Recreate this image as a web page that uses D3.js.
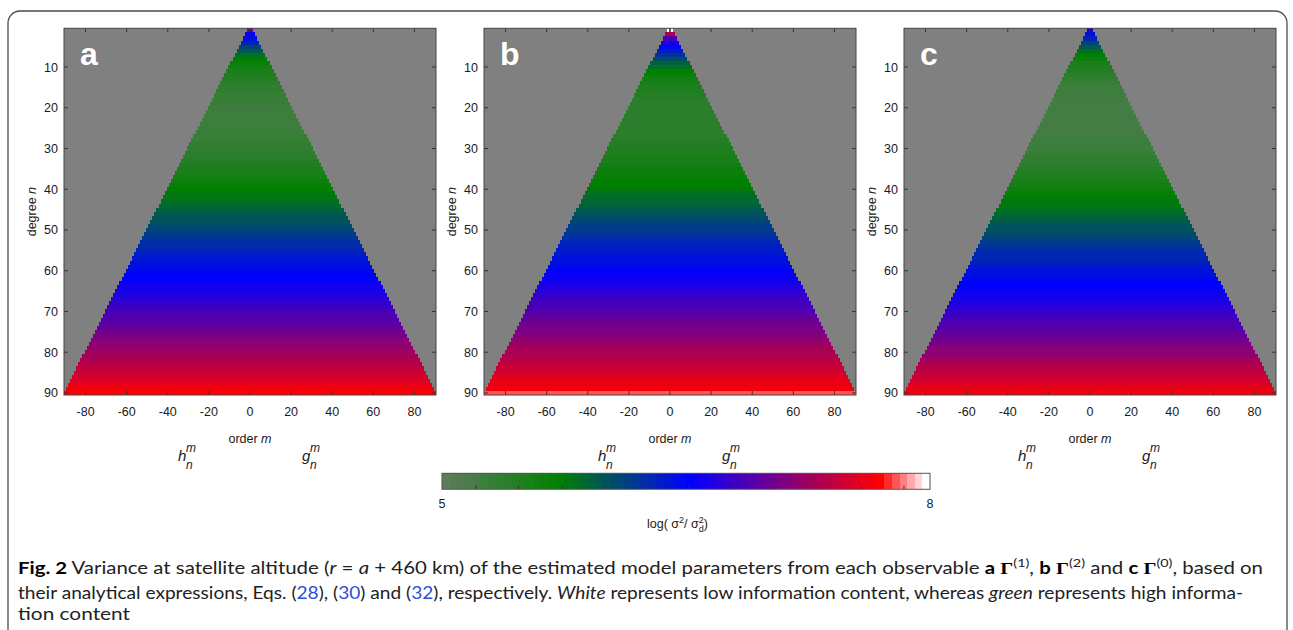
<!DOCTYPE html>
<html><head><meta charset="utf-8">
<script src="https://cdn.jsdelivr.net/npm/d3@7"></script>
<style>body{margin:0;background:#fff}svg{display:block}</style>
</head><body>
<svg id="c" width="1293" height="630"></svg>
<script>
// ---------- data ----------
const panelLetters = ["a", "b", "c"];
const degrees = d3.range(1, 91); // degree n = 1..90
// log(sigma^2 / sigma_d^2) per degree n (constant over order m)
const varA = [7.05,6.55,6.42,6.28,6.12,5.98,5.84,5.74,5.66,5.60,
  5.54,5.49,5.44,5.40,5.37,5.34,5.32,5.30,5.29,5.28,
  5.27,5.27,5.27,5.27,5.28,5.29,5.30,5.32,5.34,5.36,
  5.39,5.42,5.45,5.48,5.52,5.56,5.60,5.64,5.68,5.72,
  5.75,5.79,5.83,5.87,5.91,5.95,5.99,6.03,6.07,6.11,
  6.15,6.19,6.23,6.26,6.30,6.34,6.37,6.41,6.44,6.47,
  6.50,6.53,6.57,6.60,6.64,6.68,6.72,6.76,6.80,6.84,
  6.88,6.92,6.96,7.00,7.04,7.08,7.12,7.16,7.20,7.25,
  7.29,7.33,7.38,7.42,7.46,7.50,7.55,7.59,7.64,7.68];
const varB = [8.00,7.30,6.85,6.60,6.48,6.35,6.20,6.05,5.92,5.80,
  5.72,5.66,5.60,5.55,5.51,5.47,5.44,5.42,5.40,5.39,
  5.38,5.38,5.38,5.38,5.39,5.40,5.42,5.44,5.46,5.48,
  5.50,5.53,5.56,5.59,5.62,5.65,5.68,5.71,5.74,5.77,
  5.81,5.85,5.89,5.93,5.97,6.01,6.05,6.09,6.13,6.17,
  6.21,6.24,6.28,6.32,6.35,6.39,6.42,6.45,6.48,6.51,
  6.55,6.59,6.63,6.67,6.71,6.75,6.79,6.83,6.87,6.91,
  6.95,6.99,7.03,7.07,7.10,7.14,7.18,7.22,7.26,7.30,
  7.34,7.38,7.42,7.46,7.50,7.54,7.58,7.62,7.67,7.80];
const varC = [6.55,6.45,6.30,6.12,5.95,5.82,5.72,5.64,5.56,5.50,
  5.44,5.39,5.35,5.31,5.28,5.26,5.24,5.23,5.22,5.21,
  5.21,5.20,5.20,5.20,5.21,5.21,5.22,5.24,5.26,5.28,
  5.30,5.33,5.36,5.39,5.43,5.47,5.51,5.55,5.59,5.63,
  5.67,5.71,5.75,5.79,5.83,5.87,5.91,5.95,5.99,6.03,
  6.07,6.11,6.15,6.19,6.23,6.27,6.30,6.34,6.38,6.41,
  6.44,6.47,6.50,6.53,6.56,6.60,6.64,6.68,6.72,6.76,
  6.80,6.84,6.88,6.92,6.96,7.00,7.04,7.08,7.12,7.16,
  7.20,7.25,7.30,7.35,7.40,7.45,7.50,7.55,7.60,7.66];
// cells with no value (drawn as background): [n, m]
const missingA = [];
const missingB = [[1, 0]];
const missingC = [];
const xTicks = [-80, -60, -40, -20, 0, 20, 40, 60, 80];
const yTicks = [10, 20, 30, 40, 50, 60, 70, 80, 90];
const cbDomain = [5, 8];
const cbTickLabels = [5, 8];
const cbMinorTicks = [5.21, 5.47, 5.74, 6.00, 6.26, 6.52, 6.79, 7.05, 7.31, 7.58, 7.84];

// ---------- styling ----------
const svg = d3.select("#c");
const FONT = "'Liberation Sans', Arial, Helvetica, sans-serif";
const TXT = "#1a1a1a";

svg.append("rect").attr("x", 8).attr("y", 11).attr("width", 1279).attr("height", 700)
  .attr("rx", 12).attr("fill", "none").attr("stroke", "#4a4a4a").attr("stroke-width", 1.3);

const NBINS = 64;
const idxColor = d3.scaleLinear()
  .domain([0, 15, 32, 57, 63])
  .range(["rgb(92,124,92)", "rgb(0,128,0)", "rgb(0,0,255)", "rgb(255,0,0)", "rgb(255,255,255)"])
  .interpolate(d3.interpolateRgb);
const binScale = d3.scaleQuantize().domain(cbDomain).range(d3.range(NBINS));
const colorOf = v => idxColor(binScale(v));

const panelLeft = [64, 484, 904];
const PW = 372, TOP = 28.3, BOT = 395;
const datasets = [varA, varB, varC];
const missings = [missingA, missingB, missingC];

panelLeft.forEach((px, i) => {
  const x = d3.scaleLinear().domain([-90.5, 90.5]).range([px, px + PW]);
  const y = d3.scaleLinear().domain([0.5, 90.5]).range([TOP, BOT]);
  const g = svg.append("g");
  g.append("rect").attr("x", px).attr("y", TOP).attr("width", PW).attr("height", BOT - TOP)
    .attr("fill", "#808080");

  // build runs of cells per degree
  const runs = [];
  degrees.forEach((n, k) => {
    const v = datasets[i][k];
    let start = null;
    for (let m = -n; m <= n + 1; m++) {
      const miss = m > n || missings[i].some(d => d[0] === n && d[1] === m);
      if (!miss && start === null) start = m;
      if (miss && start !== null) { runs.push({ n, m0: start, m1: m - 1, v }); start = null; }
    }
  });
  g.selectAll("rect.cell").data(runs).join("rect").attr("class", "cell")
    .attr("x", d => x(d.m0 - 0.5)).attr("width", d => x(d.m1 + 0.5) - x(d.m0 - 0.5))
    .attr("y", d => y(d.n - 0.5)).attr("height", d => y(d.n + 0.5) - y(d.n - 0.5))
    .attr("fill", d => colorOf(d.v)).attr("shape-rendering", "crispEdges");

  const tk = 4, tc = "#333";
  xTicks.forEach(t => {
    g.append("line").attr("x1", x(t)).attr("x2", x(t)).attr("y1", BOT).attr("y2", BOT - tk).attr("stroke", tc);
    g.append("line").attr("x1", x(t)).attr("x2", x(t)).attr("y1", TOP).attr("y2", TOP + tk).attr("stroke", tc);
    g.append("text").attr("x", x(t)).attr("y", 416).attr("text-anchor", "middle")
      .attr("font-family", FONT).attr("font-size", 12.5).attr("fill", TXT).text(t);
  });
  yTicks.forEach(t => {
    g.append("line").attr("x1", px).attr("x2", px + tk).attr("y1", y(t)).attr("y2", y(t)).attr("stroke", tc);
    g.append("line").attr("x1", px + PW).attr("x2", px + PW - tk).attr("y1", y(t)).attr("y2", y(t)).attr("stroke", tc);
    g.append("text").attr("x", px - 6).attr("y", y(t) + 4.5).attr("text-anchor", "end")
      .attr("font-family", FONT).attr("font-size", 12.5).attr("fill", TXT).text(t);
  });
  g.append("rect").attr("x", px).attr("y", TOP).attr("width", PW).attr("height", BOT - TOP)
    .attr("fill", "none").attr("stroke", "#444").attr("stroke-width", 1);

  // panel letter
  g.append("text").attr("x", px + 16).attr("y", 65).attr("font-family", FONT)
    .attr("font-weight", "bold").attr("font-size", 32).attr("fill", "#fff").text(panelLetters[i]);

  // y label
  const yl = g.append("text").attr("transform", `translate(${px - 28},${(TOP + BOT) / 2}) rotate(-90)`)
    .attr("text-anchor", "middle").attr("font-family", FONT).attr("font-size", 12.5).attr("fill", TXT);
  yl.append("tspan").text("degree ");
  yl.append("tspan").attr("font-style", "italic").text("n");

  const cx = px + PW / 2;
  const xl = g.append("text").attr("x", cx).attr("y", 443).attr("text-anchor", "middle")
    .attr("font-family", FONT).attr("font-size", 12.5).attr("fill", TXT);
  xl.append("tspan").text("order ");
  xl.append("tspan").attr("font-style", "italic").text("m");

  [["h", -72], ["g", 52]].forEach(([ch, dx]) => {
    const it = { "font-family": FONT, "font-style": "italic", fill: TXT };
    const a = g.append("text").attr("x", cx + dx).attr("y", 460.5).attr("font-size", 15).text(ch);
    const b = g.append("text").attr("x", cx + dx + 8).attr("y", 452).attr("font-size", 12).text("m");
    const c = g.append("text").attr("x", cx + dx + 8).attr("y", 468.5).attr("font-size", 12).text("n");
    [a, b, c].forEach(s => Object.entries(it).forEach(([k, v]) => s.attr(k, v)));
  });
});

// ---------- colorbar ----------
const CB0 = 442, CB1 = 930, CBT = 473.3, CBB = 489.3;
const cbx = d3.scaleLinear().domain(cbDomain).range([CB0, CB1]);
const step = (cbDomain[1] - cbDomain[0]) / NBINS;
svg.append("g").selectAll("rect").data(d3.range(NBINS)).join("rect")
  .attr("x", i => cbx(cbDomain[0] + i * step)).attr("y", CBT)
  .attr("width", i => cbx(cbDomain[0] + (i + 1) * step) - cbx(cbDomain[0] + i * step) + 0.4)
  .attr("height", CBB - CBT).attr("fill", i => idxColor(i)).attr("shape-rendering", "crispEdges");
cbMinorTicks.forEach(t => {
  svg.append("line").attr("x1", cbx(t)).attr("x2", cbx(t)).attr("y1", CBB).attr("y2", CBB - 3.5).attr("stroke", "#333");
});
svg.append("rect").attr("x", CB0).attr("y", CBT).attr("width", CB1 - CB0).attr("height", CBB - CBT)
  .attr("fill", "none").attr("stroke", "#555").attr("stroke-width", 1);
cbTickLabels.forEach(t => {
  svg.append("text").attr("x", cbx(t)).attr("y", 508).attr("text-anchor", "middle")
    .attr("font-family", FONT).attr("font-size", 12.5).attr("fill", TXT).text(t);
});
const cbl = svg.append("text").attr("x", 647).attr("y", 528).attr("font-family", FONT)
  .attr("font-size", 12.5).attr("fill", TXT);
cbl.append("tspan").text("log( σ");
cbl.append("tspan").attr("dy", -5).attr("font-size", 9).text("2");
cbl.append("tspan").attr("dy", 5).text("/ σ");
cbl.append("tspan").attr("dy", -5).attr("font-size", 9).text("2");
cbl.append("tspan").attr("dx", -5).attr("dy", 8.5).attr("font-size", 9).text("d");
cbl.append("tspan").attr("dy", -3.5).text(")");

// ---------- caption ----------
const CFONT = "Lato, 'Open Sans', sans-serif";
function captionLine(yb, len, parts) {
  const t = svg.append("text").attr("x", 18).attr("y", yb).attr("font-family", CFONT)
    .attr("font-size", 17).attr("fill", "#222");
  if (len) t.attr("textLength", len).attr("lengthAdjust", "spacingAndGlyphs");
  let shift = 0;
  parts.forEach(p => {
    const s = t.append("tspan").text(p.t);
    const target = p.sup ? -7 : 0;
    if (target !== shift) { s.attr("dy", target - shift); shift = target; }
    if (p.sup) s.attr("font-size", 12);
    if (p.b) s.attr("font-weight", "bold").attr("fill", "#000");
    if (p.i) s.attr("font-style", "italic");
    if (p.link) s.attr("fill", "#2b4fd6");
    if (p.G) s.attr("font-family", "'Liberation Serif', 'DejaVu Serif', serif").attr("font-weight", "bold").attr("fill", "#000");
  });
}
captionLine(574, 1245, [
  { t: "Fig. 2", b: true }, { t: "  Variance at satellite altitude (" }, { t: "r", i: true },
  { t: " = " }, { t: "a", i: true }, { t: " + 460 km) of the estimated model parameters from each observable " },
  { t: "a", b: true }, { t: " " }, { t: "Γ", G: true }, { t: "(1)", sup: true }, { t: ", " },
  { t: "b", b: true }, { t: " " }, { t: "Γ", G: true }, { t: "(2)", sup: true }, { t: " and " },
  { t: "c", b: true }, { t: " " }, { t: "Γ", G: true }, { t: "(0)", sup: true }, { t: ", based on" }
]);
captionLine(599, 1225, [
  { t: "their analytical expressions, Eqs. (" }, { t: "28", link: true }, { t: "), (" }, { t: "30", link: true },
  { t: ") and (" }, { t: "32", link: true }, { t: "), respectively. " }, { t: "White", i: true },
  { t: " represents low information content, whereas " }, { t: "green", i: true },
  { t: " represents high informa-" }
]);
captionLine(620, 112, [{ t: "tion content" }]);
</script>
</body></html>
